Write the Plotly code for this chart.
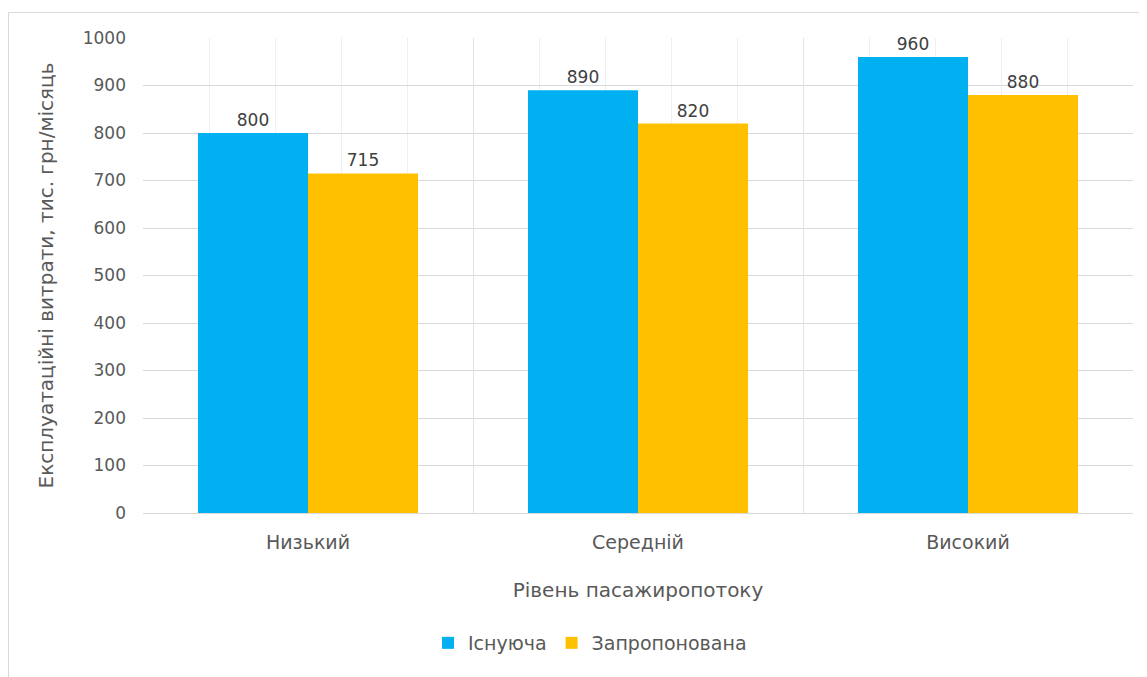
import plotly.graph_objects as go

categories = ["Низький", "Середній", "Високий"]
existing = [800, 890, 960]
proposed = [715, 820, 880]
series_names = ["Існуюча", "Запропонована"]
y_ticks = [0, 100, 200, 300, 400, 500, 600, 700, 800, 900, 1000]

FONT = "DejaVu Sans"
TXT = "#595959"

OFF = 8  # page body margin
L, R, T, B = 143 - OFF, 1133 - OFF, 38 - OFF, 513 - OFF
W, H = 1147 - OFF, 677 - OFF

fig = go.Figure()
fig.add_trace(go.Bar(x=categories, y=existing, name=series_names[0],
                     marker=dict(color="#00B0F0", line=dict(width=0)),
                     text=existing, textposition="outside",
                     textfont=dict(family=FONT, size=17, color="#404040"),
                     cliponaxis=False))
fig.add_trace(go.Bar(x=categories, y=proposed, name=series_names[1],
                     marker=dict(color="#FFC000", line=dict(width=0)),
                     text=proposed, textposition="outside",
                     textfont=dict(family=FONT, size=17, color="#404040"),
                     cliponaxis=False))
# invisible helper trace for the vertical grid axis
fig.add_trace(go.Scatter(x=[-0.5, 2.5], y=[0, 0], xaxis="x2", mode="none",
                         showlegend=False, hoverinfo="skip"))

def px2paper_x(px):
    return (px - OFF - L) / (R - L)

def px2paper_y(py):
    return (B - (py - OFF)) / (B - T)

fig.update_layout(
    width=W, height=H,
    margin=dict(l=L, r=W - R, t=T, b=H - B),
    paper_bgcolor="white", plot_bgcolor="white",
    font=dict(family=FONT, size=17, color=TXT),
    barmode="group", bargap=1/3, bargroupgap=0,
    xaxis=dict(type="category", range=[-0.5, 2.5], showgrid=False,
               showline=False, zeroline=False, ticks="",
               ticklabelstandoff=16,
               tickfont=dict(family=FONT, size=19, color=TXT),
               title=dict(text="Рівень пасажиропотоку", standoff=30,
                          font=dict(family=FONT, size=20, color=TXT))),
    xaxis2=dict(overlaying="x", type="linear", range=[-0.5, 2.5],
                tickvals=[-0.5, 0.5, 1.5, 2.5], showticklabels=False,
                showgrid=True, gridcolor="#e3e3e3", gridwidth=1,
                zeroline=False, showline=False, ticks="",
                minor=dict(showgrid=True, tick0=-0.5, dtick=0.2,
                           gridcolor="#f0f0f0", gridwidth=1)),
    yaxis=dict(range=[0, 1000], tickvals=y_ticks, showgrid=True,
               gridcolor="#d9d9d9", gridwidth=1, zeroline=True,
               zerolinecolor="#d9d9d9", zerolinewidth=1, showline=False,
               ticks="", ticklabelstandoff=16,
               tickfont=dict(family=FONT, size=17, color=TXT),
               title=dict(text="Експлуатаційні витрати, тис. грн/місяць",
                          standoff=23,
                          font=dict(family=FONT, size=20, color=TXT))),
    legend=dict(orientation="h", x=px2paper_x(428), xanchor="left",
                y=px2paper_y(643), yanchor="middle",
                font=dict(family=FONT, size=19, color=TXT),
                bgcolor="rgba(0,0,0,0)", itemclick=False),
    shapes=[dict(type="rect", xref="paper", yref="paper",
                 x0=px2paper_x(8.5), x1=px2paper_x(1170),
                 y0=px2paper_y(700), y1=px2paper_y(12.5),
                 line=dict(color="#d9d9d9", width=1), layer="below")],
)

fig.write_html("out.html")
